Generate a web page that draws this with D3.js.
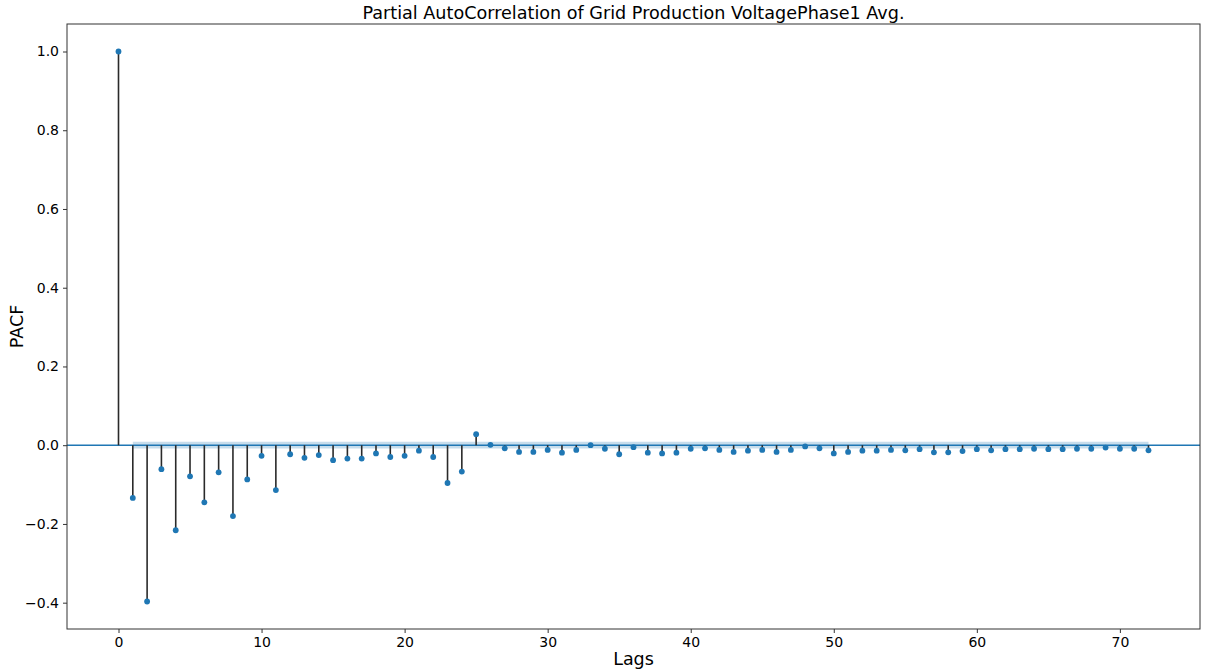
<!DOCTYPE html>
<html>
<head>
<meta charset="utf-8">
<script src="https://cdn.jsdelivr.net/npm/d3@7"></script>
<style>
  body { margin: 0; background: #fff; }
  svg text { font-family: "DejaVu Sans", sans-serif; fill: #000; }
</style>
</head>
<body>
<svg id="chart" width="1206" height="671"></svg>
<script>
// lags 0..72
const lags = d3.range(0, 73);
const pacfValues = [
  1.0, -0.134, -0.397, -0.061, -0.216, -0.079, -0.145, -0.069, -0.180, -0.087,
  -0.027, -0.114, -0.023, -0.032, -0.025, -0.038, -0.034, -0.034, -0.021, -0.030,
  -0.027, -0.014, -0.030, -0.096, -0.067, 0.028, 0.001, -0.008, -0.017, -0.017,
  -0.012, -0.019, -0.012, 0.000, -0.009, -0.023, -0.005, -0.019, -0.021, -0.019,
  -0.009, -0.008, -0.012, -0.017, -0.014, -0.012, -0.017, -0.012, -0.003, -0.008,
  -0.021, -0.017, -0.014, -0.014, -0.012, -0.013, -0.010, -0.018, -0.018, -0.015,
  -0.010, -0.013, -0.010, -0.010, -0.009, -0.010, -0.010, -0.009, -0.009, -0.006,
  -0.009, -0.009, -0.013
];
const confHalf = 0.0085; // +/- band around zero
const xTicks = [0, 10, 20, 30, 40, 50, 60, 70];
const yTicks = [-0.4, -0.2, 0.0, 0.2, 0.4, 0.6, 0.8, 1.0];

const margin = { top: 24, right: 6, bottom: 42, left: 67 };
const svg = d3.select("#chart");
const width = +svg.attr("width") - margin.left - margin.right;
const height = +svg.attr("height") - margin.top - margin.bottom;
const g = svg.append("g").attr("transform", "translate(" + margin.left + "," + margin.top + ")");

const data = lags.map((l, i) => ({ lag: l, value: pacfValues[i] }));

// matplotlib style 5% margins
const xPad = (d3.max(lags) - d3.min(lags)) * 0.05;
const yMin = d3.min(pacfValues), yMax = d3.max(pacfValues);
const yPad = (yMax - yMin) * 0.05;

const x = d3.scaleLinear().domain([d3.min(lags) - xPad, d3.max(lags) + xPad]).range([0, width]);
const y = d3.scaleLinear().domain([yMin - yPad, yMax + yPad]).range([height, 0]);

const blue = "#1f77b4";

// confidence band (lags 1..72)
const band = data.slice(1);
g.append("path")
  .datum(band)
  .attr("fill", blue)
  .attr("fill-opacity", 0.25)
  .attr("d", d3.area()
    .x(d => x(d.lag))
    .y0(() => y(-confHalf))
    .y1(() => y(confHalf)));

// zero line
g.append("line")
  .attr("x1", 0).attr("x2", width)
  .attr("y1", y(0)).attr("y2", y(0))
  .attr("stroke", blue)
  .attr("stroke-width", 1.5);

// stems
g.selectAll(".stem")
  .data(data)
  .enter().append("line")
  .attr("class", "stem")
  .attr("x1", d => x(d.lag)).attr("x2", d => x(d.lag))
  .attr("y1", y(0)).attr("y2", d => y(d.value))
  .attr("stroke", "#2a2a2a")
  .attr("stroke-width", 1.6);

// markers
g.selectAll(".dot")
  .data(data)
  .enter().append("circle")
  .attr("class", "dot")
  .attr("cx", d => x(d.lag))
  .attr("cy", d => y(d.value))
  .attr("r", 2.9)
  .attr("fill", blue);

// axes
const xAxis = g.append("g")
  .attr("transform", "translate(0," + height + ")")
  .call(d3.axisBottom(x).tickValues(xTicks).tickFormat(d3.format("d")).tickSizeOuter(0).tickSize(4).tickPadding(4));
const yAxis = g.append("g")
  .call(d3.axisLeft(y).tickValues(yTicks).tickFormat(d3.format(".1f")).tickSizeOuter(0).tickSize(4).tickPadding(4));

[xAxis, yAxis].forEach(a => {
  a.selectAll("text").style("font-size", "14px").style("font-family", "DejaVu Sans, sans-serif").attr("fill", "#222");
  a.selectAll("line").attr("stroke", "#333");
  a.select(".domain").remove();
});

// frame
g.append("rect")
  .attr("x", 0).attr("y", 0)
  .attr("width", width).attr("height", height)
  .attr("fill", "none")
  .attr("stroke", "#333")
  .attr("stroke-width", 1);

// labels
svg.append("text")
  .attr("x", margin.left + width / 2)
  .attr("y", 19)
  .attr("text-anchor", "middle")
  .style("font-size", "17.6px")
  .text("Partial AutoCorrelation of Grid Production VoltagePhase1 Avg.");

svg.append("text")
  .attr("x", margin.left + width / 2)
  .attr("y", 665)
  .attr("text-anchor", "middle")
  .style("font-size", "17.5px")
  .text("Lags");

svg.append("text")
  .attr("transform", "translate(23," + (margin.top + height / 2) + ") rotate(-90)")
  .attr("text-anchor", "middle")
  .style("font-size", "17.5px")
  .text("PACF");
</script>
</body>
</html>
